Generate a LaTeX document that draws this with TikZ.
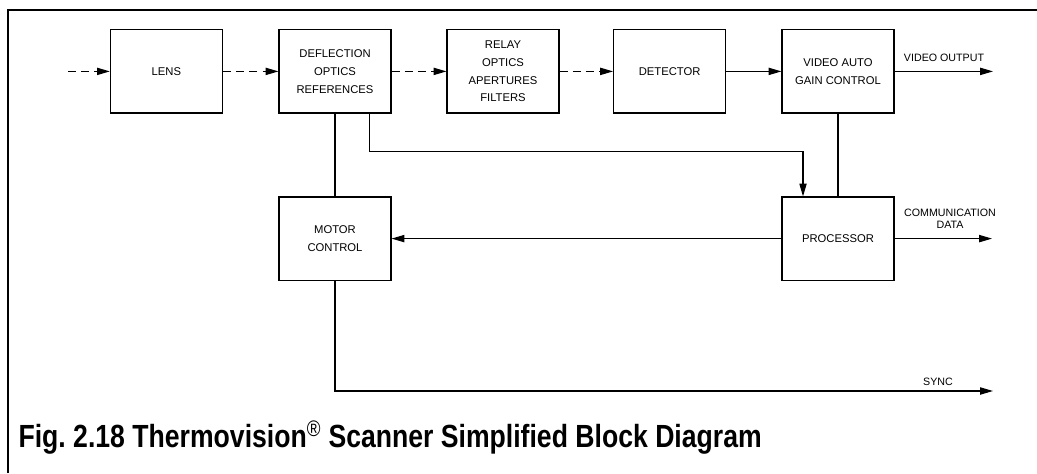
\documentclass[tikz,border=0pt]{standalone}
\usepackage{fontspec}
\setmainfont{Liberation Sans}
\usepackage{tikz}
\usetikzlibrary{arrows.meta}

\tikzset{
    block/.style={shape=rectangle,draw=black,line width=0.8pt,
        minimum width=2.8cm,minimum height=2.08cm,align=center,
        font=\fontsize{8}{12.7}\selectfont},
    beam/.style={dash pattern=on 0.2cm off 0.13cm},
    signal/.style={font=\fontsize{7.6}{8.6}\selectfont,align=center},
}

\begin{document}
\begin{tikzpicture}[line width=0.8pt,>={Triangle[length=3.2mm,width=1.8mm]}]
            \useasboundingbox (0, 0) rectangle (25.925, 11.825);
            \draw [line width=1.4pt] (0.19, 0) -- (0.19, 11.575) -- (25.925, 11.575);

            \node (lens)[block]
                at (4.16, 10.04) {LENS};
            \node (deflection)[block]
                at (8.375, 10.04) {DEFLECTION\\OPTICS\\REFERENCES};
            \node (relay)[block]
                at (12.575, 10.04) {RELAY\\OPTICS\\APERTURES\\FILTERS};
            \node (detector)[block]
                at (16.74, 10.04) {DETECTOR};
            \node (video)[block]
                at (20.95, 10.04) {VIDEO AUTO\\GAIN CONTROL};
            \node (motor)[block]
                at (8.375, 5.86) {MOTOR\\CONTROL};
            \node (processor)[block]
                at (20.95, 5.86) {PROCESSOR};

            \coordinate (scene) at (1.7, 10.04);
            \coordinate (videoout) at (24.825, 10.04);
            \coordinate (commout) at (24.8, 5.86);
            \coordinate (syncout) at (24.825, 2.05);
            \coordinate (bend) at (20.075, 8.04);

            \node (videolabel)[signal]
                at (23.6, 10.375) {VIDEO OUTPUT};
            \node (commlabel)[signal]
                at (23.75, 6.35) {COMMUNICATION\\DATA};
            \node (synclabel)[signal]
                at (23.45, 2.275) {SYNC};

            % optical path
            \path [->,beam] (scene) edge (lens);
            \path [->,beam] (lens) edge (deflection);
            \path [->,beam] (deflection) edge (relay);
            \path [->,beam] (relay) edge (detector);
            \path [->] (detector) edge (video);
            \path [->] (video) edge (videoout);

            % electronics
            \draw (deflection.south) -- (motor.north);
            \draw [->] ([xshift=0.86cm]deflection.south) |- (bend) -- (bend |- processor.north);
            \draw (video.south) -- (processor.north);
            \path [->] (processor) edge (motor);
            \path [->] (processor) edge (commout);
            \draw [->] (motor.south) |- (syncout);

            \node (caption)[anchor=base west,inner sep=0pt]
                at (0.45, 0.65) {\fontsize{22.8}{27}\selectfont\bfseries
                \scalebox{0.83}[1]{Fig.\ 2.18 Thermovision\textsuperscript{\mdseries\textregistered} Scanner Simplified Block Diagram}};
\end{tikzpicture}
\end{document}
